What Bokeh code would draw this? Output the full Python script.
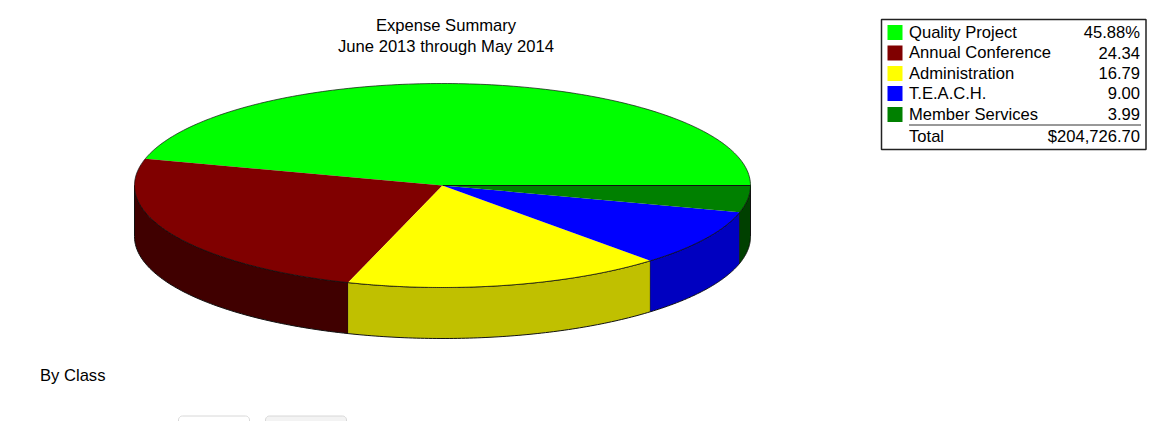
import numpy as np
from bokeh.plotting import figure
from bokeh.core.properties import value
from bokeh.embed import file_html
from bokeh.resources import INLINE

categories = ["Quality Project", "Annual Conference", "Administration", "T.E.A.C.H.", "Member Services"]
percents = [45.88, 24.34, 16.79, 9.00, 3.99]
percent_labels = ["45.88%", "24.34", "16.79", "9.00", "3.99"]
total_label = "$204,726.70"
top_colors = ["#00ff00", "#800000", "#ffff00", "#0000ff", "#008000"]
side_colors = ["#008000", "#400000", "#c0c000", "#0000c0", "#004000"]
title_lines = ["Expense Summary", "June 2013 through May 2014"]

FONT = value("Liberation Sans")
FS = "16.6px"
TXT = "#000000"
W, H = 1152, 421
p = figure(width=W, height=H, x_range=(0, W), y_range=(H, 0),
           output_backend="svg", toolbar_location=None,
           min_border=0, outline_line_color=None)
p.xaxis.visible = False
p.yaxis.visible = False
p.xgrid.visible = False
p.ygrid.visible = False

CX, CY, RX, RY, DEPTH = 442, 185, 308, 102, 51
EDGE = "#111111"
ANGLE_CAL = 0.9975  # the source renderer's slices fall slightly short of the exact share


def pt(deg):
    a = np.radians(np.asarray(deg, dtype=float))
    return CX + RX * np.cos(a), CY + RY * np.sin(-a)


bounds = np.concatenate([[0], np.cumsum(percents) / sum(percents) * 360 * ANGLE_CAL])
bounds[-1] = 360

# side walls (visible lower half only)
for i, col in enumerate(side_colors):
    a0, a1 = max(bounds[i], 180), bounds[i + 1]
    if a1 <= a0:
        continue
    t = np.linspace(a0, a1, 80)
    x, y = pt(t)
    p.patch(np.r_[x, x[::-1]], np.r_[y, y[::-1] + DEPTH], fill_color=col, line_color=None)
    p.line(x, y + DEPTH, line_color=EDGE, line_width=1)
    p.line(x, y, line_color=EDGE, line_width=1)
    if i < len(side_colors) - 1:
        ex, ey = pt(a1)
        p.line([ex, ex], [ey, ey + DEPTH], line_color=EDGE, line_width=1)

# wall ends
for deg in (180, 360):
    ex, ey = pt(deg)
    p.line([ex, ex], [ey, ey + DEPTH], line_color=EDGE, line_width=1)

# top faces
for i, col in enumerate(top_colors):
    t = np.linspace(bounds[i], bounds[i + 1], 160)
    x, y = pt(t)
    p.patch(np.r_[CX, x], np.r_[CY, y], fill_color=col, line_color=None)
    p.line(x, y, line_color=EDGE, line_width=1, line_alpha=0.7)
p.line([CX, CX + RX], [CY, CY], line_color=EDGE, line_width=1)

# title
p.text([445.5, 445.5], [25, 45.5], text=title_lines, text_font=FONT, text_font_size=FS,
       text_align="center", text_baseline="middle", text_color=TXT)
p.text([39.5], [375], text=["By Class"], text_font=FONT, text_font_size=FS,
       text_align="left", text_baseline="middle", text_color=TXT)

# legend box
p.quad(left=[881], right=[1145.5], top=[19], bottom=[149], fill_color="white",
       line_color="#222222", line_width=1.5)
rows = [31.5, 52, 72.5, 92.5, 113.5]
p.quad(left=[887] * 5, right=[902] * 5,
       top=[r - 7 for r in rows], bottom=[r + 8 for r in rows],
       fill_color=top_colors, line_color=None)
p.text([908.5] * 5, rows, text=categories, text_font=FONT, text_font_size=FS,
       text_align="left", text_baseline="middle", text_color=TXT)
p.text([1139.5] * 5, rows, text=percent_labels, text_font=FONT, text_font_size=FS,
       text_align="right", text_baseline="middle", text_color=TXT)
p.line([908.5, 1140.5], [124.5, 124.5], line_color="#333333", line_width=1)
p.text([908.5], [135.5], text=["Total"], text_font=FONT, text_font_size=FS,
       text_align="left", text_baseline="middle", text_color=TXT)
p.text([1139.5], [135.5], text=[total_label], text_font=FONT, text_font_size=FS,
       text_align="right", text_baseline="middle", text_color=TXT)


def rounded(x0, x1, y0, y1, r=4):
    t = np.linspace(0, np.pi / 2, 8)
    xs = np.r_[x0 + r - r * np.cos(t), x1 - r + r * np.sin(t), x1, x0]
    ys = np.r_[y0 + r - r * np.sin(t), y0 + r - r * np.cos(t), y1, y1]
    return xs, ys


for (x0, x1, fill) in [(178, 249, "#ffffff"), (265, 346, "#f3f3f3")]:
    xs, ys = rounded(x0, x1, 415.5, 425)
    p.patch(xs, ys, fill_color=fill, line_color="#d8d8d8", line_width=1)

open("out.html", "w").write(file_html(p, INLINE))
